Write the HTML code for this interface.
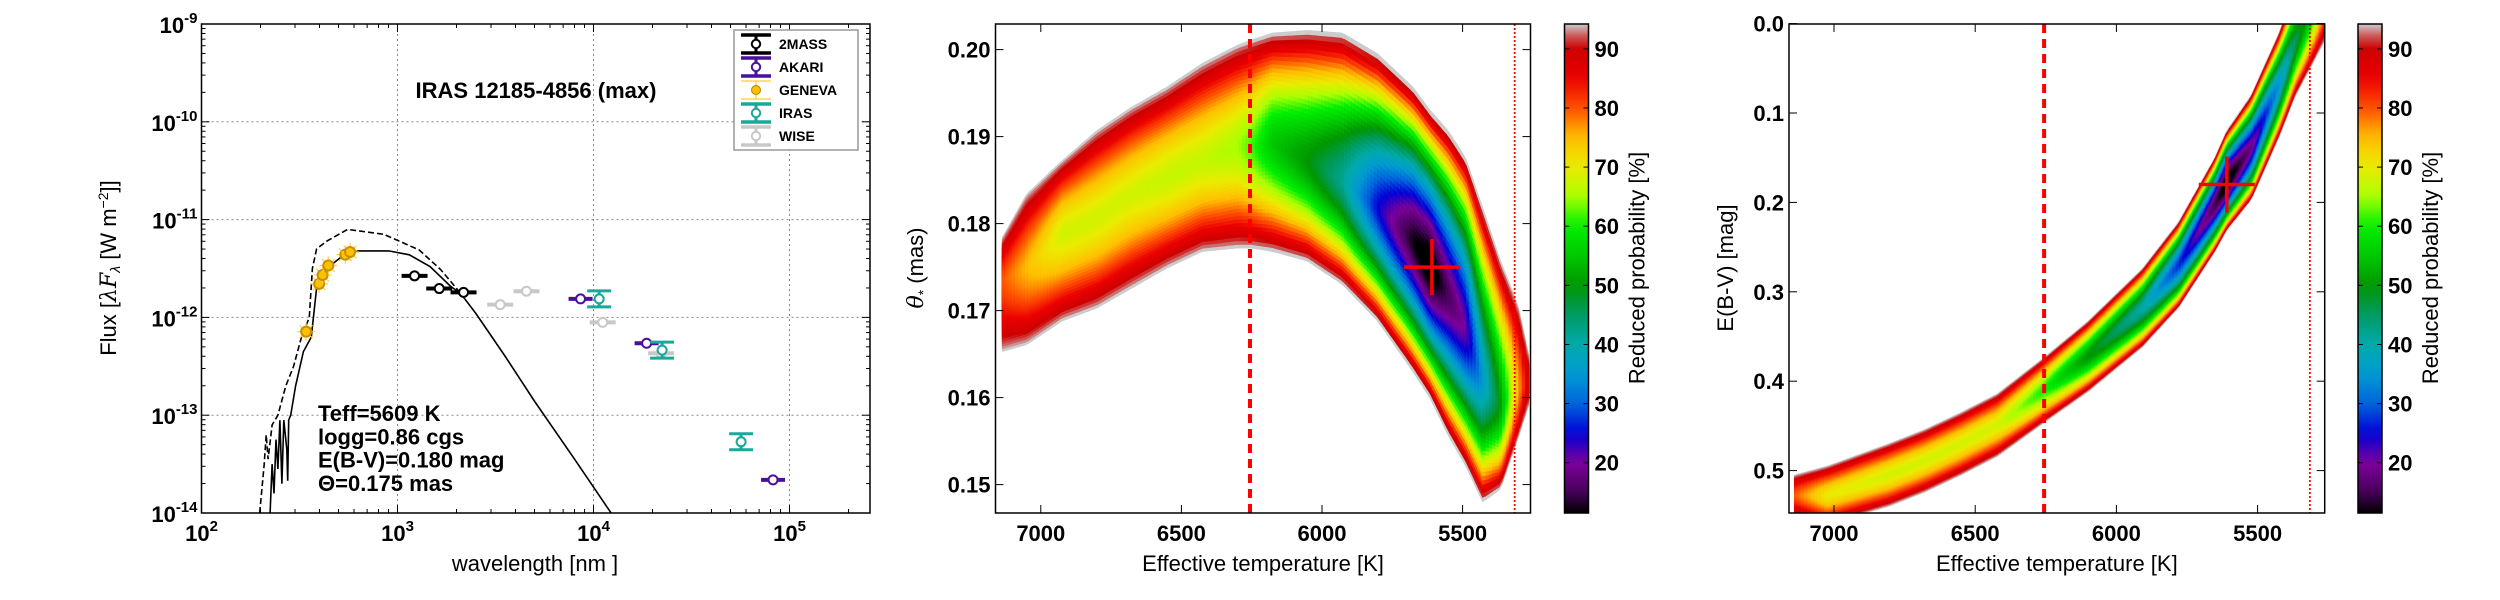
<!DOCTYPE html>
<html><head><meta charset="utf-8"><title>SED fit IRAS 12185-4856</title>
<style>
html,body{margin:0;padding:0;background:#fff;}
svg{display:block;font-family:"Liberation Sans","DejaVu Sans",sans-serif;}
.tk{font-weight:bold;font-size:22px;fill:#000;}
.lab{font-size:22px;fill:#000;}
</style></head>
<body>
<svg id="fig" xmlns="http://www.w3.org/2000/svg" width="2500" height="600" viewBox="0 0 2500 600">
<rect width="2500" height="600" fill="#fff"/>
<defs>
<clipPath id="clip1"><rect x="201.5" y="24" width="668.5" height="489"/></clipPath>
<clipPath id="clip2"><rect x="995.5" y="24" width="535" height="489"/></clipPath>
<clipPath id="clip3"><rect x="1789" y="24" width="535.7" height="489"/></clipPath>
<linearGradient id="cbgrad" x1="0" y1="1" x2="0" y2="0"></linearGradient>
</defs>
</svg>
<script>
// ---------------- DATA ----------------
const massLam=[3.087,3.213,3.337];
const massFlux=[-11.575,-11.705,-11.744];
const akariLam=[3.934,4.271,4.916];
const akariFlux=[-11.811,-12.264,-13.661];
const genevaLam=[2.534,2.600,2.618,2.647,2.734,2.758];
const genevaFlux=[-12.146,-11.657,-11.567,-11.469,-11.358,-11.331];
const irasLam=[4.029,4.350,4.753];
const irasFlux=[-11.811,-12.335,-13.272];
const wiseLam=[3.524,3.658,4.047,4.345];
const wiseFlux=[-11.870,-11.732,-12.051,-12.366];
const solidLam=[2.35,2.36,2.37,2.38,2.39,2.40,2.41,2.42,2.435,2.44,2.445,2.455,2.48,2.52,2.56,2.587,2.64,2.72,2.80,2.955,3.06,3.166,3.27,3.324,3.40,3.55,3.70,3.90,4.09];
const solidFlux=[-14.0,-13.5,-13.8,-13.25,-13.55,-13.05,-13.7,-13.05,-13.35,-13.67,-13.05,-13.0,-12.7,-12.35,-12.2,-11.7,-11.5,-11.37,-11.32,-11.32,-11.36,-11.48,-11.68,-11.76,-11.96,-12.40,-12.86,-13.44,-14.0];
const dashLam=[2.297,2.32,2.33,2.34,2.36,2.39,2.43,2.47,2.51,2.55,2.566,2.587,2.64,2.745,2.93,3.11,3.22,3.30,3.33];
const dashFlux=[-14.0,-13.5,-13.2,-13.45,-13.1,-13.0,-12.7,-12.5,-12.2,-12.0,-11.5,-11.3,-11.22,-11.1,-11.15,-11.31,-11.51,-11.7,-11.78];
const decadeX=[2,3,4,5];
const decadeY=[-9,-10,-11,-12,-13,-14];

const bandT2=[7137,7050,6925,6800,6676,6551,6426,6301,6251,6176,6052,5927,5802,5677,5615,5552,5490,5428,5365,5303,5265];
const bandUp2=[0.1784,0.1834,0.1872,0.1907,0.1934,0.1957,0.1984,0.2005,0.2011,0.2019,0.2022,0.2019,0.1995,0.1957,0.1930,0.1907,0.1876,0.1818,0.1757,0.1707,0.1649];
const bandLow2=[0.1653,0.1661,0.1688,0.1703,0.1726,0.1749,0.1768,0.1772,0.1772,0.1768,0.1757,0.1730,0.1688,0.1630,0.1599,0.1557,0.1522,0.1480,0.1495,0.1553,0.1591];
const bandCore2=[0.1734,0.1749,0.1788,0.1807,0.1834,0.1853,0.1872,0.1888,0.1888,0.1892,0.1872,0.1849,0.1818,0.1780,0.1749,0.1718,0.1680,0.1618,0.1591,0.1611,0.1618];
const bandMin2=[80,75,68,68,68,67,67,65,62,55,50,42,25,12,8,15,20,35,50,75,88];
const ticksT=[7000,6500,6000,5500];
const ticksTheta=[0.15,0.16,0.17,0.18,0.19,0.20];
const best2=[5609,0.175];

const bandT3=[7140,7024,6806,6678,6550,6421,6254,6101,5908,5780,5652,5610,5523,5421,5369,5305,5260];
const bandUp3=[0.505,0.495,0.470,0.454,0.435,0.414,0.373,0.333,0.274,0.222,0.150,0.120,0.080,0.008,-0.040,-0.085,-0.110];
const bandLow3=[0.550,0.560,0.540,0.524,0.505,0.484,0.446,0.412,0.362,0.318,0.256,0.232,0.198,0.125,0.083,0.045,0.018];
const bandCore3=[0.528,0.528,0.505,0.489,0.470,0.449,0.409,0.372,0.318,0.270,0.203,0.178,0.139,0.066,0.022,-0.020,-0.046];
const bandMin3=[80,70,68,68,68,68,60,50,40,27,15,8,18,35,45,55,70];
const ticksE=[0.0,0.1,0.2,0.3,0.4,0.5];
const best3=[5609,0.180];

const cbTicks=[20,30,40,50,60,70,80,90];
const limitT=[6256,5315];

// ---------------- HELPERS ----------------
const NS="http://www.w3.org/2000/svg";
const svg=document.getElementById('fig');
function mk(tag,attrs,parent){const e=document.createElementNS(NS,tag);for(const k in attrs)e.setAttribute(k,attrs[k]);(parent||svg).appendChild(e);return e;}
function txt(s,attrs,parent){const e=mk('text',attrs,parent);e.textContent=s;return e;}
const stops=[[11.5,[0,0,0]],[15,[70,0,90]],[20,[125,0,155]],[25,[0,0,215]],[30,[0,100,220]],[35,[0,155,210]],[40,[0,170,170]],[45,[0,155,100]],[50,[0,150,0]],[55,[0,200,0]],[60,[0,240,0]],[65,[170,255,0]],[70,[235,235,0]],[75,[255,190,0]],[80,[255,80,0]],[85,[235,0,0]],[90,[205,0,0]],[92.5,[205,100,100]],[94.2,[204,204,204]]];
function cmap(v){if(v<=stops[0][0])return 'rgb(0,0,0)';for(let i=1;i<stops.length;i++){if(v<=stops[i][0]){const a=stops[i-1],b=stops[i];const t=(v-a[0])/(b[0]-a[0]);const c=a[1].map((x,j)=>Math.round(x+(b[1][j]-x)*t));return 'rgb('+c.join(',')+')';}}return 'rgb(204,204,204)';}
function interp(xs,ys,x){
  for(let i=0;i<xs.length-1;i++){if(x<=xs[i]&&x>=xs[i+1]){const t=(x-xs[i])/(xs[i+1]-xs[i]);return ys[i]+(ys[i+1]-ys[i])*t;}}
  return x>xs[0]?ys[0]:ys[ys.length-1];}

// ---------------- PANEL 1: SED ----------------
const P1={l:201.5,r:870,t:24,b:513};
const xL=v=>P1.l+(v-2)*196;
const yF=v=>P1.t+(-9-v)*97.8;
const g1=mk('g',{});


const grid1=mk('g',{stroke:'#888','stroke-width':1,'stroke-dasharray':'2,3'},g1);


decadeX.forEach(d=>{if(d>2)mk('line',{x1:xL(d),x2:xL(d),y1:P1.t,y2:P1.b},grid1);});
decadeY.forEach(d=>{if(d>-14&&d<-9)mk('line',{x1:P1.l,x2:P1.r,y1:yF(d),y2:yF(d)},grid1);});
const dat1=mk('g',{'clip-path':'url(#clip1)'},g1);
function poly(xsA,ysA,attrs,name){let d='';for(let i=0;i<xsA.length;i++)d+=(i?'L':'M')+xL(xsA[i]).toFixed(1)+' '+yF(ysA[i]).toFixed(1);const p=mk('path',Object.assign({d:d,fill:'none'},attrs),dat1);}
poly(dashLam,dashFlux,{stroke:'#000','stroke-width':1.6,'stroke-dasharray':'6,3'},'model-sed-dashed');
poly(solidLam,solidFlux,{stroke:'#000','stroke-width':1.6},'model-sed-reddened');
function series(lam,flux,col,name,opts){
  const g=mk('g',{},dat1);
  
  
  for(let i=0;i<lam.length;i++){
    const x=xL(lam[i]),y=yF(flux[i]);
    if(opts.hbar)mk('line',{x1:x-opts.hbar,x2:x+opts.hbar,y1:y,y2:y,stroke:col,'stroke-width':4},g);
    if(opts.caps){mk('line',{x1:x-opts.caps,x2:x+opts.caps,y1:y-8,y2:y-8,stroke:col,'stroke-width':3},g);mk('line',{x1:x-opts.caps,x2:x+opts.caps,y1:y+8,y2:y+8,stroke:col,'stroke-width':3},g);mk('line',{x1:x,x2:x,y1:y-8,y2:y+8,stroke:col,'stroke-width':3},g);}
    if(opts.star){for(let k=0;k<4;k++){const a=k*Math.PI/4;mk('line',{x1:x-9*Math.cos(a),y1:y-9*Math.sin(a),x2:x+9*Math.cos(a),y2:y+9*Math.sin(a),stroke:'#ffd040','stroke-width':1.2},g);}}
    mk('circle',{cx:x,cy:y,r:opts.r||4.5,fill:opts.fill||'#fff',stroke:opts.edge||col,'stroke-width':2},g);
  }}
series(wiseLam,wiseFlux,'#c8c8c8','wise',{hbar:13});
series(massLam,massFlux,'#000','2mass',{hbar:13});
series(akariLam,akariFlux,'#4a0fa0','akari',{hbar:12});
series(irasLam,irasFlux,'#1aa89a','iras',{caps:12});
series(genevaLam,genevaFlux,'#ffc000','geneva',{star:true,fill:'#ffc000',edge:'#c89000',r:5});
const fr1=mk('rect',{x:P1.l,y:P1.t,width:P1.r-P1.l,height:P1.b-P1.t,fill:'none',stroke:'#000','stroke-width':1.5},g1);


const tk1=mk('g',{stroke:'#000','stroke-width':1},g1);
for(let d=2;d<=5;d++){for(let m=1;m<10;m++){const v=d+Math.log10(m);if(v>5.41)break;const x=xL(v),L=m===1?8:4;mk('line',{x1:x,x2:x,y1:P1.b,y2:P1.b-L},tk1);mk('line',{x1:x,x2:x,y1:P1.t,y2:P1.t+L},tk1);}}
for(let d=-14;d<-9;d++){for(let m=1;m<10;m++){const v=d+Math.log10(m);const y=yF(v),L=m===1?8:4;mk('line',{x1:P1.l,x2:P1.l+L,y1:y,y2:y},tk1);mk('line',{x1:P1.r,x2:P1.r-L,y1:y,y2:y},tk1);}}
decadeX.forEach(d=>{const t=mk('text',{x:xL(d),y:541,'text-anchor':'middle',class:'tk','font-size':'24'},g1);const a=mk('tspan',{},t);a.textContent='10';const b=mk('tspan',{dy:-10,'font-size':'15'},t);b.textContent=String(d);});
decadeY.forEach(d=>{const t=mk('text',{x:P1.l-4,y:yF(d)+9,'text-anchor':'end',class:'tk','font-size':'24'},g1);const a=mk('tspan',{},t);a.textContent='10';const b=mk('tspan',{dy:-10,'font-size':'15'},t);b.textContent=String(d);});
let e;
e=txt('wavelength [nm ]',{x:535,y:571,'text-anchor':'middle',class:'lab'},g1);


e=mk('text',{x:0,y:0,'text-anchor':'middle',class:'lab',transform:'translate(116,268) rotate(-90)'},g1);


e.innerHTML='Flux [<tspan font-style="italic" font-family="DejaVu Serif">λF</tspan><tspan font-style="italic" font-size="14" dy="4">λ</tspan><tspan dy="-4"> [W  m</tspan><tspan font-size="14" dy="-8">−2</tspan><tspan dy="8">]]</tspan>';
e=txt('IRAS 12185-4856 (max)',{x:536,y:98,'text-anchor':'middle','font-weight':'bold','font-size':'22'},g1);


const fit=['Teff=5609 K','logg=0.86 cgs','E(B-V)=0.180 mag','Θ=0.175 mas'];
fit.forEach((s,i)=>{const t=txt(s,{x:318,y:421+i*23.3,'font-weight':'bold','font-size':'22'},g1);});
const lg=mk('g',{},g1);


mk('rect',{x:734,y:30,width:124,height:120,fill:'#fff',stroke:'#999','stroke-width':1.5},lg);
const legNames=['2MASS','AKARI','GENEVA','IRAS','WISE'];
const legCols=['#000','#4a0fa0','#ffc000','#1aa89a','#c8c8c8'];
legNames.forEach((n,i)=>{const y=44+i*23;const ge=mk('g',{},lg);
  if(n==='GENEVA'){mk('line',{x1:741,x2:771,y1:y-9,y2:y-9,stroke:'#ffc000','stroke-width':1},ge);mk('line',{x1:741,x2:771,y1:y+9,y2:y+9,stroke:'#ffc000','stroke-width':1},ge);mk('line',{x1:756,x2:756,y1:y-9,y2:y+9,stroke:'#ffc000','stroke-width':1},ge);mk('circle',{cx:756,cy:y,r:4.5,fill:'#ffc000',stroke:'#b08000','stroke-width':1},ge);}
  else{mk('line',{x1:741,x2:771,y1:y-9,y2:y-9,stroke:legCols[i],'stroke-width':3.5},ge);mk('line',{x1:741,x2:771,y1:y+9,y2:y+9,stroke:legCols[i],'stroke-width':3.5},ge);mk('line',{x1:756,x2:756,y1:y-9,y2:y+9,stroke:legCols[i],'stroke-width':3},ge);mk('circle',{cx:756,cy:y,r:4.2,fill:'#fff',stroke:legCols[i],'stroke-width':2},ge);}
  txt(n,{x:779,y:y+5,'font-weight':'bold','font-size':'14'},ge);});

// ---------------- BAND PANELS ----------------
function bandPanel(o){
  const g=mk('g',{});
  
  
  const d=mk('g',{'clip-path':o.clip},g);
  const T0=o.T[0],T1=o.T[o.T.length-1],NS_=160,NL=28;
  const sl=[];
  for(let i=0;i<=NS_;i++){const T=T0+(T1-T0)*i/NS_;sl.push({x:o.xf(T),u:o.yf(interp(o.T,o.up,T)),lo:o.yf(interp(o.T,o.low,T)),c:o.yf(interp(o.T,o.core,T)),m:interp(o.T,o.min,T)});}
  for(let k=0;k<NL;k++){const f=1-k/NL;
    for(let i=0;i<NS_;i++){const a=sl[i],b=sl[i+1];const m=(a.m+b.m)/2;const p=m+(94.2-m)*Math.pow(f,1.6);const col=cmap(p);
      const pts=[[a.x,a.c+f*(a.u-a.c)],[b.x,b.c+f*(b.u-b.c)],[b.x,b.c+f*(b.lo-b.c)],[a.x,a.c+f*(a.lo-a.c)]].map(q=>q[0].toFixed(1)+','+q[1].toFixed(1)).join(' ');
      mk('polygon',{points:pts,fill:col,stroke:col,'stroke-width':0.8},d);}}
  let ln=mk('line',{x1:o.xf(limitT[0]),x2:o.xf(limitT[0]),y1:o.t,y2:o.b,stroke:'#f00','stroke-width':4,'stroke-dasharray':'9,6'},g);
  
  
  ln=mk('line',{x1:o.xf(limitT[1]),x2:o.xf(limitT[1]),y1:o.t,y2:o.b,stroke:'#f00','stroke-width':1.8,'stroke-dasharray':'2,2'},g);
  
  
  const cx=o.xf(o.best[0]),cy=o.yf(o.best[1]);
  const cr=mk('g',{stroke:'#f00','stroke-width':3.5},g);
  
  
  mk('line',{x1:cx-28,x2:cx+28,y1:cy,y2:cy},cr);mk('line',{x1:cx,x2:cx,y1:cy-28,y2:cy+28},cr);
  mk('rect',{x:o.l,y:o.t,width:o.r-o.l,height:o.b-o.t,fill:'none',stroke:'#000','stroke-width':1.5},g);
  const tg=mk('g',{stroke:'#000','stroke-width':1},g);
  ticksT.forEach(T=>{const x=o.xf(T);mk('line',{x1:x,x2:x,y1:o.b,y2:o.b-8},tg);mk('line',{x1:x,x2:x,y1:o.t,y2:o.t+8},tg);const t=txt(String(T),{x:x,y:541,'text-anchor':'middle',class:'tk'},g);});
  o.yt.forEach(v=>{const y=o.yf(v);mk('line',{x1:o.l,x2:o.l+8,y1:y,y2:y},tg);mk('line',{x1:o.r,x2:o.r-8,y1:y,y2:y},tg);const t=txt(v.toFixed(o.dec),{x:o.l-5,y:y+8,'text-anchor':'end',class:'tk'},g);});
  let t=txt('Effective temperature [K]',{x:(o.l+o.r)/2,y:571,'text-anchor':'middle',class:'lab'},g);
  
  
  t=mk('text',{x:0,y:0,'text-anchor':'middle',class:'lab',transform:'translate('+o.ylx+',268) rotate(-90)'},g);
  
  
  t.innerHTML=o.ylab;
  const cb=mk('g',{},g);
  
  
  mk('rect',{x:o.cbx,y:o.t,width:24,height:o.b-o.t,fill:'url(#cbgrad)',stroke:'#000','stroke-width':1.5},cb);
  const cy0=o.b,cyk=(o.b-o.t)/(94.2-11.5);
  cbTicks.forEach(v=>{const y=cy0-(v-11.5)*cyk;mk('line',{x1:o.cbx,x2:o.cbx+5,y1:y,y2:y,stroke:'#000'},cb);mk('line',{x1:o.cbx+24,x2:o.cbx+19,y1:y,y2:y,stroke:'#000'},cb);const tt=txt(String(v),{x:o.cbx+30,y:y+8,class:'tk'},cb);});
  t=txt('Reduced probability [%]',{x:0,y:0,'text-anchor':'middle',class:'lab',transform:'translate('+(o.cbx+80)+',268) rotate(-90)'},cb);
  
  
}
const grad=document.getElementById('cbgrad');
for(let i=0;i<=40;i++){const v=11.5+(94.2-11.5)*i/40;mk('stop',{offset:(i/40),'stop-color':cmap(v)},grad);}

bandPanel({name:'theta-teff-panel',clip:'url(#clip2)',l:995.5,r:1530.5,t:24,b:513,
  xf:T=>1040.8+(7000-T)*140.6/500, yf:v=>49.6+(0.20-v)*8700,
  T:bandT2,up:bandUp2,low:bandLow2,core:bandCore2,min:bandMin2,best:best2,yt:ticksTheta,dec:2,ylx:923,
  ylab:'<tspan font-style="italic" font-family="DejaVu Serif">θ</tspan><tspan font-size="14" dy="5">*</tspan><tspan dy="-5">  (mas)</tspan>',cbx:1564.5});
bandPanel({name:'ebv-teff-panel',clip:'url(#clip3)',l:1789,r:2324.7,t:24,b:513,
  xf:T=>1834+(7000-T)*0.2824, yf:v=>23.6+v*894,
  T:bandT3,up:bandUp3,low:bandLow3,core:bandCore3,min:bandMin3,best:best3,yt:ticksE,dec:1,ylx:1733,
  ylab:'E(B-V) [mag]',cbx:2358});
</script>
</body></html>
